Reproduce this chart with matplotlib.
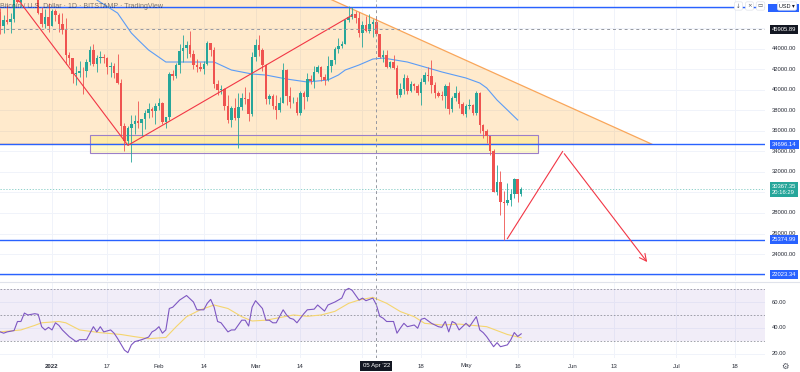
import matplotlib
matplotlib.use("Agg")
import matplotlib.pyplot as plt
from matplotlib.patches import Polygon, Rectangle
from matplotlib.lines import Line2D
import pandas as pd

# daily candles, BITSTAMP BTC/USD, first candle 2021-12-17
start = pd.Timestamp("2021-12-17")
opens = [47600, 46200, 46850, 46680, 46900, 48950, 48600, 50820, 50430, 50800, 50700, 50650, 47550, 46450, 47100,
         46200, 47700, 47300, 46450, 45820, 43430, 43080, 41550, 41680, 41860, 41830, 42750, 43920, 42580, 43100,
         43180, 43100, 42230, 42380, 41660, 40700, 36470, 35050, 36280, 36680, 36960, 36820, 37180, 37720, 38170,
         37920, 38480, 38740, 36900, 37320, 41570, 41400, 42400, 43840, 44060, 44400, 43540, 42400, 42200, 42070,
         42560, 44580, 43900, 40580, 40000, 40100, 38400, 37050, 38250, 37250, 38350, 39250, 39150, 37700, 43180,
         44420, 43950, 42450, 39150, 39400, 38420, 38050, 38750, 41950, 39450, 38800, 38850, 37800, 39680, 39300,
         41120, 40920, 41800, 42200, 41280, 41010, 42380, 42900, 43990, 44330, 44520, 46840, 47130, 47450, 47070,
         45520, 46300, 45800, 46420, 46620, 45500, 43200, 43450, 42280, 42770, 42170, 39500, 40100, 41150, 39950,
         40550, 40400, 39700, 40800, 41500, 41370, 40500, 39700, 39460, 39450, 40430, 38120, 39240, 39740, 38600,
         37650, 38470, 38530, 37730, 39700, 36560, 36000, 35470, 34050, 30080, 31000, 29080, 28950, 29300, 29900,
         31350, 29850]
highs = [48000, 47300, 48300, 47500, 49300, 49600, 51350, 51800, 51150, 51300, 52000, 50700, 48100, 47900, 48500,
         47900, 47950, 47550, 47500, 47050, 43750, 43140, 42300, 42800, 42250, 43000, 44300, 44450, 43450, 43800,
         43500, 43200, 42700, 42600, 43500, 41100, 36800, 36500, 37550, 37550, 38900, 37200, 38000, 38700, 38350,
         38700, 39250, 38850, 37400, 41750, 41950, 42650, 44500, 45400, 44800, 45800, 43900, 43000, 42750, 42800,
         44750, 44600, 44200, 40980, 40450, 40150, 39500, 38450, 39250, 39700, 39700, 40300, 39850, 43750, 44950,
         45400, 44100, 42500, 39650, 39650, 39500, 39350, 42600, 42050, 40250, 39350, 39300, 39950, 39900, 41700,
         41450, 42300, 42400, 42300, 41550, 43350, 42900, 44200, 45100, 44800, 46950, 48189, 48100, 47700, 47600,
         46700, 47200, 47450, 46900, 47200, 45500, 43950, 43950, 42800, 43400, 42400, 40700, 41550, 41500, 40850,
         40700, 40600, 41150, 41750, 42200, 42950, 40800, 39950, 39900, 40600, 40800, 39450, 40350, 39950, 38800,
         38650, 39150, 38650, 39900, 39800, 36650, 36150, 35500, 34250, 32650, 32100, 30100, 30950, 30300, 31450,
         31350, 30500]
lows = [45500, 45600, 46400, 45600, 46600, 48450, 48100, 50450, 50200, 49500, 50500, 47400, 46100, 46000, 45700,
        46200, 46700, 45700, 45500, 42500, 42450, 40700, 40500, 41250, 39650, 41300, 42450, 42300, 41750, 42600,
        42600, 41550, 41250, 41150, 40600, 35500, 34000, 34600, 32950, 35700, 36250, 35500, 36200, 37300, 37380,
        36650, 38000, 36650, 36250, 37050, 40950, 41150, 41700, 42700, 43150, 43200, 42000, 41800, 41900, 41600,
        42450, 43350, 40150, 39500, 39650, 38000, 36800, 36350, 37050, 34320, 38050, 38600, 37000, 37450, 42850,
        43350, 41850, 38600, 38600, 38100, 37150, 37900, 38700, 38550, 38250, 38700, 37600, 37600, 38150, 38950,
        40550, 40200, 41700, 40900, 40500, 40900, 41750, 42550, 43600, 44100, 44450, 46650, 46950, 46550, 45200,
        44200, 45650, 45550, 45150, 45400, 43150, 42750, 42150, 42150, 42050, 39200, 39300, 39600, 39600, 39800,
        40000, 39550, 38550, 40600, 40850, 39750, 39200, 39300, 39000, 38200, 37700, 37900, 38900, 38200, 37600,
        37400, 38100, 37550, 37600, 35850, 35300, 34800, 33700, 30000, 29750, 27800, 25400, 28750, 28650, 29500,
        29100, 29650]
closes = [46200, 46850, 46680, 46900, 48950, 48600, 50820, 50430, 50800, 50700, 50650, 47550, 46450, 47100, 46200,
          47700, 47300, 46450, 45820, 43430, 43080, 41550, 41680, 41860, 41830, 42750, 43920, 42580, 43100, 43180,
          43100, 42230, 42380, 41660, 40700, 36470, 35050, 36280, 36680, 36960, 36820, 37180, 37720, 38170, 37920,
          38480, 38740, 36900, 37320, 41570, 41400, 42400, 43840, 44060, 44400, 43540, 42400, 42200, 42070, 42560,
          44580, 43900, 40580, 40000, 40100, 38400, 37050, 38250, 37250, 38350, 39250, 39150, 37700, 43180, 44420,
          43950, 42450, 39150, 39400, 38420, 38050, 38750, 41950, 39450, 38800, 38850, 37800, 39680, 39300, 41120,
          40920, 41800, 42200, 41280, 41010, 42380, 42900, 43990, 44330, 44520, 46840, 47130, 47450, 47070, 45520,
          46300, 45800, 46420, 46620, 45500, 43200, 43450, 42280, 42770, 42170, 39500, 40100, 41150, 39950, 40550,
          40400, 39700, 40800, 41500, 41370, 40500, 39700, 39460, 39450, 40430, 38120, 39240, 39740, 38600, 37650,
          38470, 38530, 37730, 39700, 36560, 36000, 35470, 34050, 30080, 31000, 29080, 28950, 29300, 29900, 31350,
          29850, 30367.35]

# moving average on price
ma_days = [22, 28, 34, 38, 40, 43, 48, 56, 62, 67, 73, 77, 83, 89, 95, 98, 100, 104, 108, 111, 118, 124, 128,
           135, 139, 141, 144, 147, 150]
ma_vals = [50500, 48780, 47510, 45560, 44880, 43900, 42730, 42730, 42730, 41950, 41560, 41460, 41070, 40780,
           40980, 41460, 41950, 42440, 43020, 43120, 42730, 42150, 41760, 41170, 40680, 40200, 39020, 38050, 37070]

# RSI and its moving average
rsi_days = [0, 1, 2, 4, 5, 6, 7, 8, 10, 11, 12, 13, 14, 15, 16, 17, 18, 20, 22, 23, 25, 27, 28, 29, 30, 32, 33,
            34, 36, 37, 38, 39, 41, 43, 44, 45, 46, 47, 48, 49, 50, 52, 54, 56, 57, 59, 60, 61, 62, 63, 64, 66, 67,
            68, 70, 71, 72, 73, 74, 76, 77, 78, 79, 80, 82, 83, 84, 85, 86, 88, 89, 91, 92, 94, 95, 97, 99, 100,
            101, 102, 104, 105, 106, 108, 109, 110, 111, 112, 114, 115, 116, 117, 118, 120, 121, 122, 123, 125,
            127, 128, 129, 130, 131, 132, 133, 135, 136, 138, 139, 140, 141, 143, 144, 145, 147, 148, 149, 150, 151]
rsi_vals = [37, 36, 37, 38, 45, 45, 51.5, 50, 51, 50.5, 41, 38.5, 40.5, 38.5, 44, 42, 38.5, 33.3, 29.5, 31, 31,
            41, 37, 41, 37, 38.5, 36, 32, 23, 21, 27, 29.5, 31, 33, 37, 38.5, 41, 36, 38.5, 55, 56, 61.5, 65, 60,
            54, 54, 59, 62, 56, 45, 44, 37, 38.5, 38.5, 46, 46, 41.5, 56, 61, 55, 46, 46, 44, 44, 54, 50, 47.5,
            46.7, 44, 51, 54, 54.5, 57.7, 53, 57.7, 60, 63, 69, 70.5, 69, 61.5, 63, 61, 63, 58, 49, 47.5, 45, 45,
            36, 40, 43.6, 41, 42.3, 39.8, 46.7, 47.5, 43.6, 41, 40.5, 45, 37, 45, 43.6, 38.5, 43.6, 41, 48.7, 38.5,
            36.4, 33.3, 25.6, 28.7, 25.6, 27, 31, 36.5, 33.5, 35.5]
rsi_ma_days = [0, 6, 10, 12, 17, 19, 23, 29, 35, 39, 43, 48, 51, 54, 58, 62, 66, 70, 73, 77, 81, 85, 89, 93, 97,
               101, 104, 108, 112, 116, 120, 123, 128, 133, 139, 141, 145, 147, 151]
rsi_ma_vals = [37, 38.5, 42, 44, 45, 44, 38.5, 36.4, 35, 33.3, 31.8, 32.7, 41, 48.7, 54, 57.7, 55, 48.7, 45.4, 46,
               48, 50, 49, 50, 52.8, 59, 61.5, 63.6, 59, 52.6, 48.7, 43.6, 42.3, 43, 41.5, 41, 37, 35, 32.5]

# drawings on the chart
top_level = 48050.00
h_levels = [34696.14, 25374.99, 22023.34]
triangle = [("2021-11-10", 69000), ("2022-06-24", 34696.14), ("2021-11-10", 34696.14)]
zone = [("2022-01-12", 33900), ("2022-05-22", 35600)]
zigzag = [("2021-12-22", 48900), ("2022-01-23", 34600), ("2022-03-29", 47300)]
projection = [("2022-05-13", 25500), ("2022-05-29", 34000), ("2022-06-23", 23000)]
cross_date, cross_price = "2022-04-05", 45905.89
last_price, countdown = 30367.35, "20:16:29"

date_ticks = ["2022-01-01", "2022-01-17", "2022-02-01", "2022-02-14", "2022-03-01", "2022-03-14", "2022-04-01",
              "2022-04-18", "2022-05-01", "2022-05-16", "2022-06-01", "2022-06-13", "2022-07-01", "2022-07-18"]
date_labels = ["2022", "17", "Feb", "14", "Mar", "14", "Apr", "18", "May", "16", "Jun", "13", "Jul", "18"]
price_ticks = list(range(22000, 50000, 2000))
rsi_ticks = [20, 40, 60]


def day(s):
    return (pd.Timestamp(s) - start).days


W, H = 800, 372
GREEN, RED = "#26a69a", "#ef5350"
BLUE = "#2962ff"
GRID = "#f0f3fa"
FONT = "Liberation Sans"
YMIN, YMAX = 21366, 48780
PX = 281 / (YMAX - YMIN)  # pixels per dollar

fig = plt.figure(figsize=(W / 100, H / 100), dpi=100)
fig.patch.set_facecolor("white")
ax = fig.add_axes([0, (H - 281) / H, 765 / W, 281 / H])
ax_rsi = fig.add_axes([0, (H - 358) / H, 765 / W, 76 / H], sharex=ax)

for a in (ax, ax_rsi):
    for s in a.spines.values():
        s.set_visible(False)
    a.tick_params(left=False, bottom=False, labelleft=False, labelbottom=False)
    for d in date_ticks:
        a.axvline(day(d), color=GRID, lw=0.7, zorder=0)

ax.set_xlim(-0.07, 221.67)
ax.set_ylim(YMIN, YMAX)
ax_rsi.set_ylim(16.9, 75.4)

for p in price_ticks:
    ax.axhline(p, color=GRID, lw=0.7, zorder=0)
for r in rsi_ticks:
    ax_rsi.axhline(r, color=GRID, lw=0.7, zorder=0)

# triangle and support zone
tri = [(day(d), p) for d, p in triangle]
ax.add_patch(Polygon(tri, closed=True, fc="#ff9800", alpha=0.2, ec="none", zorder=1))
ax.plot([tri[0][0], tri[1][0], tri[2][0]], [tri[0][1], tri[1][1], tri[2][1]], color="#f9a65a", lw=0.9, zorder=1.2)
(z0d, z0p), (z1d, z1p) = zone
ax.add_patch(Rectangle((day(z0d), z0p), day(z1d) - day(z0d), z1p - z0p, fc="#ffeb3b", alpha=0.25,
                       ec="none", zorder=1.5))
ax.add_patch(Rectangle((day(z0d), z0p), day(z1d) - day(z0d), z1p - z0p, fc="none", ec="#9c7fc9",
                       lw=0.8, zorder=1.6))

for lv in [top_level] + h_levels:
    ax.axhline(lv, color=BLUE, lw=1.0, zorder=2)

ax.axhline(last_price, color=GREEN, lw=0.6, ls=(0, (1.5, 2)), alpha=0.6, zorder=2)

ax.plot(ma_days, ma_vals, color="#5b9cf6", lw=0.8, zorder=3)

# candles
xs = list(range(len(closes)))
cols = [GREEN if c >= o else RED for o, c in zip(opens, closes)]
ax.vlines(xs, lows, highs, colors=cols, lw=0.6, zorder=4)
bottoms = [min(o, c) for o, c in zip(opens, closes)]
heights = [max(abs(c - o), 60) for o, c in zip(opens, closes)]
ax.bar(xs, heights, bottom=bottoms, width=0.72, color=cols, lw=0, zorder=4.5)

# red drawings
ax.plot([day(d) for d, _ in zigzag], [p for _, p in zigzag], color="#f23645", lw=0.8, zorder=5)
ax.plot([day(d) for d, _ in projection[:2]], [p for _, p in projection[:2]], color="#f23645", lw=0.8, zorder=5)
ax.annotate("", xy=(day(projection[2][0]), projection[2][1]), xytext=(day(projection[1][0]), projection[1][1]),
            arrowprops=dict(arrowstyle="->,head_length=0.5,head_width=0.25", color="#f23645", lw=0.8),
            zorder=5)

# crosshair
ax.axhline(cross_price, color="#9598a1", lw=0.7, ls=(0, (3, 3)), zorder=6)
for a in (ax, ax_rsi):
    a.axvline(day(cross_date), color="#9598a1", lw=0.7, ls=(0, (3, 3)), zorder=6)

# RSI pane
ax_rsi.axhspan(30, 70, color="#7e57c2", alpha=0.1, lw=0, zorder=0.5)
for lv in (70, 50, 30):
    ax_rsi.axhline(lv, color="#787b86", lw=0.6, ls=(0, (2, 2)), alpha=0.8, zorder=1)
ax_rsi.plot(rsi_ma_days, rsi_ma_vals, color="#f5d56e", lw=0.8, zorder=2)
ax_rsi.plot(rsi_days, rsi_vals, color="#7e57c2", lw=0.8, zorder=3)

fig.add_artist(Line2D([0, 1], [(H - 282) / H] * 2, transform=fig.transFigure, color="#e0e3eb", lw=0.8))

# price scale: tick labels hidden behind the coloured tags are not drawn
lx = 1 + 7 / 765
tagged = [top_level, cross_price, last_price - 600] + h_levels
for p in price_ticks:
    if any(abs(p - t) * PX < 5 for t in tagged):
        continue
    ax.text(lx, p, f"{p:.2f}", transform=ax.get_yaxis_transform(), fontsize=4.2, family=FONT,
            color="#2a2e39", va="center", ha="left", clip_on=False, zorder=7)
for r in rsi_ticks:
    ax_rsi.text(lx, r, f"{r:.2f}", transform=ax_rsi.get_yaxis_transform(), fontsize=4.2, family=FONT,
                color="#2a2e39", va="center", ha="left", clip_on=False, zorder=7)


def tag(y, text, fc):
    ax.text(lx, y, text, transform=ax.get_yaxis_transform(), fontsize=4.2, family=FONT, color="white",
            va="center", ha="left", clip_on=False, zorder=9,
            bbox=dict(boxstyle="square,pad=0.35", fc=fc, ec="none"))


for lv in h_levels:
    tag(lv, f"{lv:.2f}", BLUE)
tag(cross_price, f"{cross_price:.2f}", "#131722")
# top level tag is hidden behind the currency button, only the blue box shows
fig.add_artist(Rectangle((768 / W, 1 - 12 / H), 31 / W, 8 / H, transform=fig.transFigure, fc=BLUE, ec="none",
                         zorder=8))
ax.annotate(f"{last_price:.2f}\n{countdown}", xy=(lx, last_price), xycoords=ax.get_yaxis_transform(),
            xytext=(0, 3.2), textcoords="offset points", fontsize=4.2, family=FONT, color="white", va="top",
            ha="left", linespacing=1.25, annotation_clip=False, zorder=10,
            bbox=dict(boxstyle="square,pad=0.35", fc=GREEN, ec="none"))

# time scale ("Apr" sits under the crosshair date box)
ty = -8 / 76
for d, lab in zip(date_ticks, date_labels):
    if abs(day(d) - day(cross_date)) < 6:
        continue
    ax_rsi.text(day(d), ty, lab, transform=ax_rsi.get_xaxis_transform(), fontsize=4.4, family=FONT,
                color="#2a2e39", ha="center", va="center", clip_on=False,
                fontweight="bold" if lab == "2022" else "normal", zorder=7)
ax_rsi.text(day(cross_date), ty, pd.Timestamp(cross_date).strftime("%d %b '%y"),
            transform=ax_rsi.get_xaxis_transform(), fontsize=4.4, family=FONT, color="white", ha="center",
            va="center", clip_on=False, zorder=9, bbox=dict(boxstyle="square,pad=0.4", fc="#131722", ec="none"))
fig.text(785 / W, 1 - 366 / H, "\u2699", fontsize=6, color="#50535e", ha="center", va="center")

# header / buttons
fig.text(0, 1 - 6 / H, "Bitcoin / U.S. Dollar \u00b7 1D \u00b7 BITSTAMP \u00b7 TradingView", fontsize=5,
         family=FONT, color="#131722", alpha=0.55, ha="left", va="center")
for bx, glyph in zip([738.5, 749.5, 760.5], ["\u2193", "\u00d7", "\u25ad"]):
    fig.text(bx / W, 1 - 6 / H, glyph, fontsize=4, color="#50535e", ha="center", va="center",
             bbox=dict(boxstyle="round,pad=0.3", fc="white", ec="#e0e3eb", lw=0.5))
fig.text(787 / W, 1 - 6 / H, "USD \u25be", fontsize=4, family=["Liberation Sans", "DejaVu Sans"],
         color="#131722", ha="center", va="center", zorder=10,
         bbox=dict(boxstyle="round,pad=0.3", fc="white", ec="#e0e3eb", lw=0.5))

fig.savefig("out.png", dpi=100)
